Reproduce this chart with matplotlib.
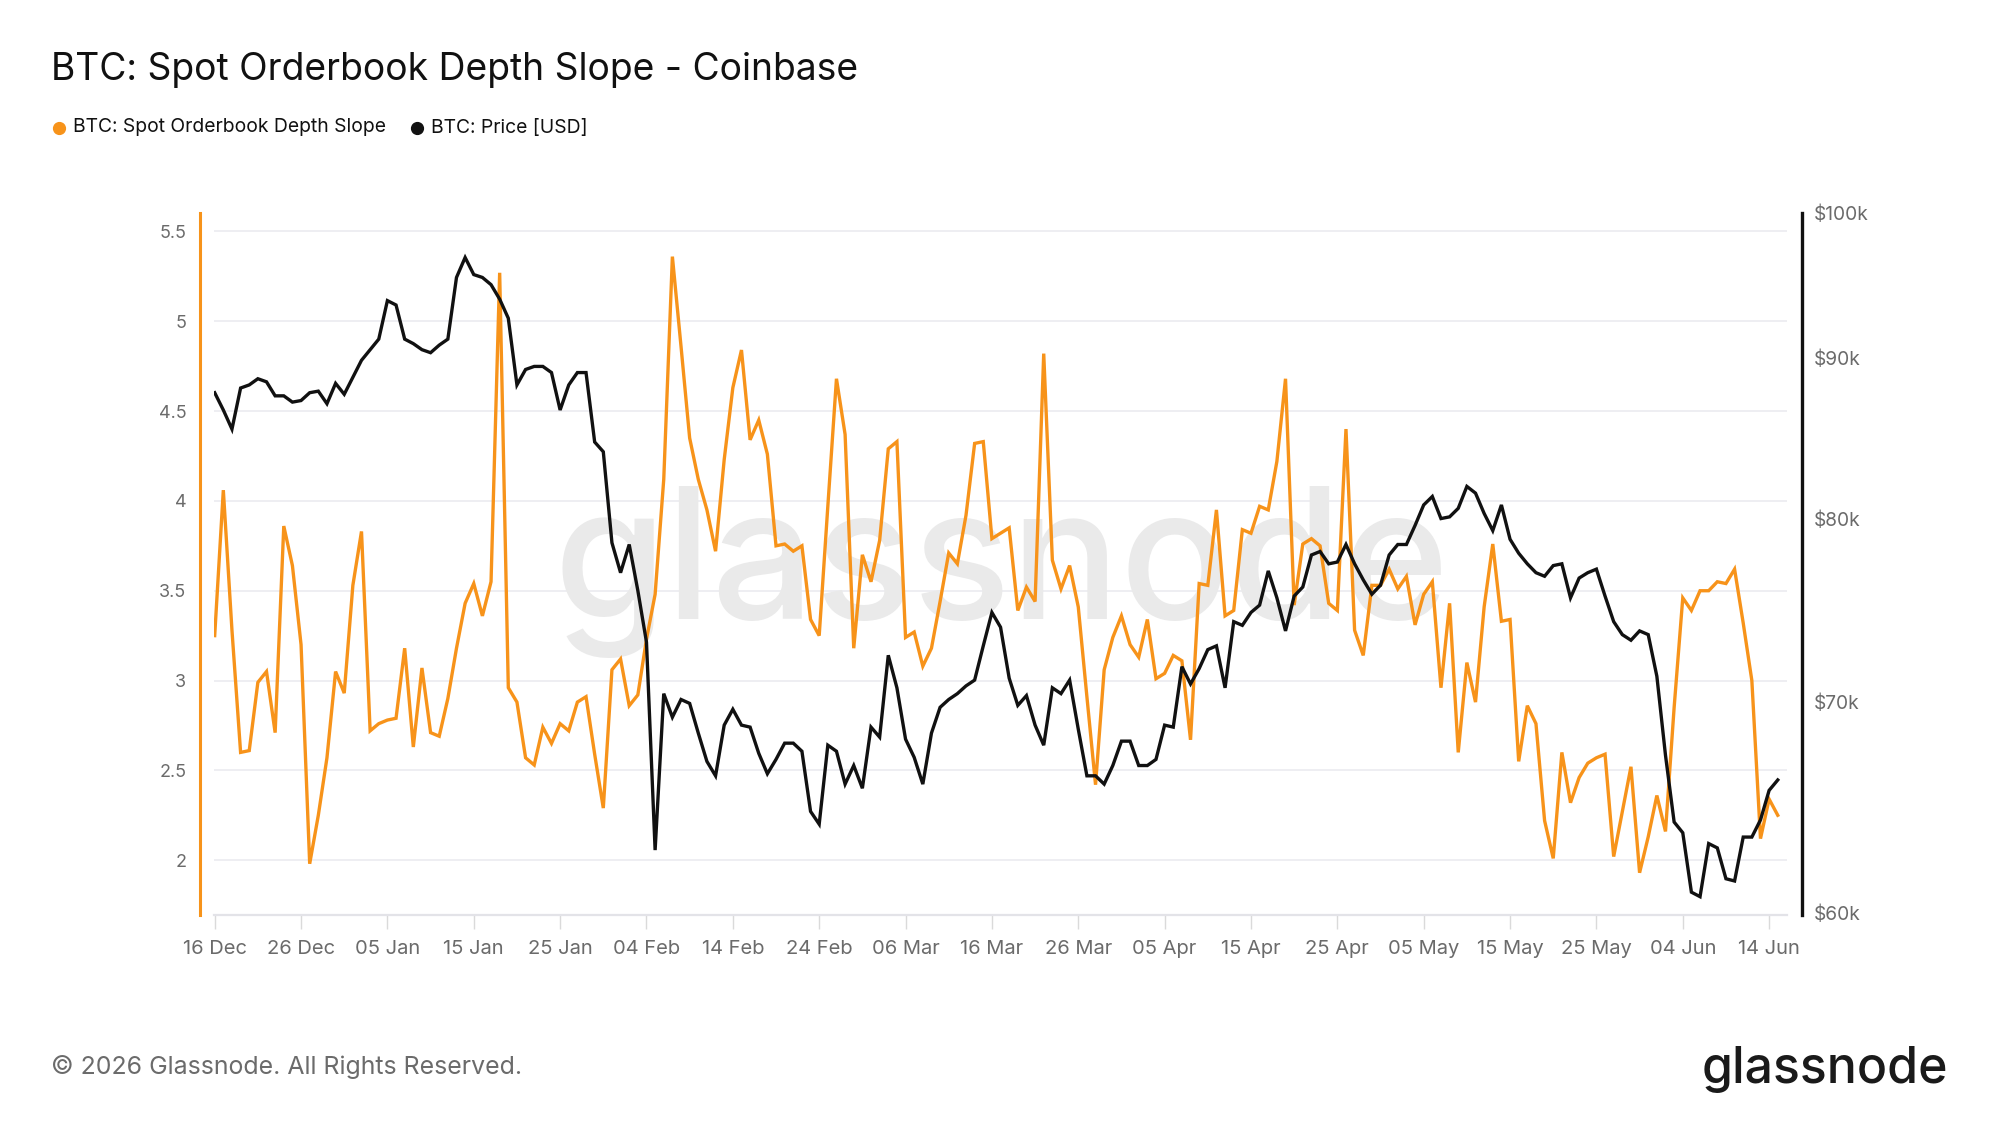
import numpy as np
import pandas as pd
import matplotlib
matplotlib.use('Agg')
import matplotlib.pyplot as plt
import matplotlib.dates as mdates
from matplotlib.lines import Line2D
from matplotlib.ticker import FixedLocator, NullLocator

plt.rcParams['font.family'] = ['Inter', 'DejaVu Sans']

# daily values, 16 Dec 2025 -> 15 Jun 2026
start = '2025-12-16'

slope = [3.25, 4.06, 3.28, 2.60, 2.61, 2.99, 3.05, 2.71, 3.86, 3.64,
         3.20, 1.98, 2.25, 2.57, 3.05, 2.93, 3.53, 3.83, 2.72, 2.76,
         2.78, 2.79, 3.18, 2.63, 3.07, 2.71, 2.69, 2.90, 3.18, 3.43,
         3.54, 3.36, 3.55, 5.27, 2.96, 2.88, 2.57, 2.53, 2.74, 2.65,
         2.76, 2.72, 2.88, 2.91, 2.59, 2.29, 3.06, 3.12, 2.86, 2.92,
         3.23, 3.48, 4.12, 5.36, 4.86, 4.35, 4.12, 3.95, 3.72, 4.23,
         4.63, 4.84, 4.34, 4.45, 4.26, 3.75, 3.76, 3.72, 3.75, 3.34,
         3.25, 3.97, 4.68, 4.37, 3.18, 3.70, 3.55, 3.78, 4.29, 4.33,
         3.24, 3.27, 3.08, 3.18, 3.44, 3.71, 3.65, 3.92, 4.32, 4.33,
         3.79, 3.82, 3.85, 3.39, 3.52, 3.44, 4.82, 3.67, 3.51, 3.64,
         3.41, 2.91, 2.42, 3.06, 3.24, 3.36, 3.20, 3.13, 3.34, 3.01,
         3.04, 3.14, 3.11, 2.67, 3.54, 3.53, 3.95, 3.36, 3.39, 3.84,
         3.82, 3.97, 3.95, 4.22, 4.68, 3.42, 3.76, 3.79, 3.75, 3.43,
         3.39, 4.40, 3.28, 3.14, 3.53, 3.53, 3.62, 3.51, 3.58, 3.31,
         3.48, 3.55, 2.96, 3.43, 2.60, 3.10, 2.88, 3.41, 3.76, 3.33,
         3.34, 2.55, 2.86, 2.76, 2.22, 2.01, 2.60, 2.32, 2.46, 2.54,
         2.57, 2.59, 2.02, 2.27, 2.52, 1.93, 2.13, 2.36, 2.16, 2.85,
         3.46, 3.39, 3.50, 3.50, 3.55, 3.54, 3.62, 3.32, 3.00, 2.12,
         2.34, 2.25]

price_k = [87.7, 86.6, 85.4, 88.0, 88.2, 88.6, 88.4, 87.5, 87.5, 87.1,
           87.2, 87.7, 87.8, 87.0, 88.3, 87.6, 88.7, 89.8, 90.5, 91.2,
           93.8, 93.5, 91.2, 90.9, 90.5, 90.3, 90.8, 91.2, 95.4, 96.8,
           95.6, 95.4, 94.9, 93.9, 92.6, 88.2, 89.2, 89.4, 89.4, 89.0,
           86.6, 88.2, 89.0, 89.0, 84.6, 84.0, 78.6, 76.9, 78.5, 75.9,
           73.1, 62.8, 70.4, 69.2, 70.1, 69.9, 68.4, 67.0, 66.3, 68.8,
           69.6, 68.8, 68.7, 67.4, 66.4, 67.1, 67.9, 67.9, 67.5, 64.6,
           64.0, 67.8, 67.5, 65.9, 66.8, 65.7, 68.7, 68.2, 72.4, 70.7,
           68.1, 67.2, 65.9, 68.4, 69.7, 70.1, 70.4, 70.8, 71.1, 72.9,
           74.7, 73.9, 71.2, 69.8, 70.3, 68.8, 67.8, 70.7, 70.4, 71.1,
           68.6, 66.3, 66.3, 65.9, 66.8, 68.0, 68.0, 66.8, 66.8, 67.1,
           68.8, 68.7, 71.8, 70.9, 71.7, 72.7, 72.9, 70.7, 74.2, 74.0,
           74.7, 75.1, 77.0, 75.5, 73.7, 75.6, 76.1, 77.9, 78.1, 77.4,
           77.5, 78.5, 77.4, 76.5, 75.7, 76.2, 77.9, 78.5, 78.5, 79.6,
           80.8, 81.3, 80.0, 80.1, 80.6, 81.9, 81.5, 80.3, 79.3, 80.8,
           78.8, 78.0, 77.4, 76.9, 76.7, 77.3, 77.4, 75.5, 76.6, 76.9,
           77.1, 75.6, 74.2, 73.5, 73.2, 73.7, 73.5, 71.3, 67.3, 64.1,
           63.6, 60.9, 60.7, 63.1, 62.9, 61.5, 61.4, 63.4, 63.4, 64.2,
           65.6, 66.1]

left_ticks = [2, 2.5, 3, 3.5, 4, 4.5, 5, 5.5]
left_labels = ['2', '2.5', '3', '3.5', '4', '4.5', '5', '5.5']
right_ticks = [60000, 70000, 80000, 90000, 100000]
right_labels = ['$60k', '$70k', '$80k', '$90k', '$100k']

ORANGE = '#F7931A'
GRID = '#EEEEF2'
TICKC = '#6B6B6B'

dates = pd.date_range(start, periods=len(slope), freq='D')
price = np.array(price_k) * 1000
tick_dates = pd.date_range(start, periods=19, freq='10D')

fig = plt.figure(figsize=(20, 11.25), dpi=100)
fig.patch.set_facecolor('white')

ax = fig.add_axes([0.107, 0.1867, 0.7865, 0.624])
ax2 = ax.twinx()

# watermark
ax.text(0.5008, 1 - 619 / 1125, 'glassnode', transform=fig.transFigure,
        ha='center', va='baseline', fontsize=131, color='#EAEAEA',
        fontweight='medium', zorder=0.6)

ax.plot(dates, slope, color=ORANGE, lw=2.4, zorder=2, solid_joinstyle='miter')
ax2.plot(dates, price, color='#111111', lw=2.4, zorder=3, solid_joinstyle='miter')

x0 = mdates.date2num(dates[0])
ax.set_xlim(x0 - 0.08, x0 + 182.07)
ax.set_ylim(1.695, 5.603)
ax2.set_yscale('log')
ax2.set_ylim(59895, 100000)

ax.yaxis.set_major_locator(FixedLocator(left_ticks))
ax.set_yticklabels(left_labels)
ax2.yaxis.set_major_locator(FixedLocator(right_ticks))
ax2.yaxis.set_minor_locator(NullLocator())
ax2.set_yticklabels(right_labels)

ax.set_xticks(tick_dates)
ax.set_xticklabels([d.strftime('%d %b') for d in tick_dates])

ax.grid(axis='y', color=GRID, lw=1.4)
ax.set_axisbelow(True)

for s in ['top', 'right']:
    ax.spines[s].set_visible(False)
for s in ['top', 'left', 'bottom']:
    ax2.spines[s].set_visible(False)
ax.spines['left'].set_position(('outward', 10))
ax.spines['left'].set_color(ORANGE)
ax.spines['left'].set_linewidth(2.2)
ax.spines['bottom'].set_color('#E3E3E8')
ax.spines['bottom'].set_linewidth(1.6)
ax2.spines['right'].set_position(('outward', 11))
ax2.spines['right'].set_color('#111111')
ax2.spines['right'].set_linewidth(2.4)

ax.tick_params(axis='y', length=0, pad=10, labelsize=13, labelcolor=TICKC)
ax.tick_params(axis='x', length=10, width=1, color='#DADADA', pad=8,
               labelsize=14.5, labelcolor=TICKC)
ax2.tick_params(axis='y', length=0, pad=8, labelsize=13.8, labelcolor=TICKC)

# title and legend
fig.text(0.0255, 1 - 70 / 1125, 'BTC: Spot Orderbook Depth Slope - Coinbase',
         fontsize=26.8, color='#111111', va='center', ha='left')
leg_y = 1 - 127.5 / 1125
fig.add_artist(Line2D([58.7 / 2000], [leg_y], marker='o', ms=8.5, color=ORANGE,
                      transform=fig.transFigure))
fig.text(72.7 / 2000, leg_y, 'BTC: Spot Orderbook Depth Slope', fontsize=13.9,
         color='#111111', va='center', ha='left')
fig.add_artist(Line2D([417 / 2000], [leg_y], marker='o', ms=8.5, color='#111111',
                      transform=fig.transFigure))
fig.text(431 / 2000, leg_y, 'BTC: Price [USD]', fontsize=13.9,
         color='#111111', va='center', ha='left')

# footer
fig.text(0.0255, 1 - 1067 / 1125, '\u00a9 2026 Glassnode. All Rights Reserved.',
         fontsize=17.9, color='#6B6B6B', va='center', ha='left')
fig.text(1948 / 2000, 1 - 1083 / 1125, 'glassnode', fontsize=36,
         color='#1A1A1A', fontweight='medium', va='baseline', ha='right')

fig.savefig('out.png', dpi=100, facecolor='white')
